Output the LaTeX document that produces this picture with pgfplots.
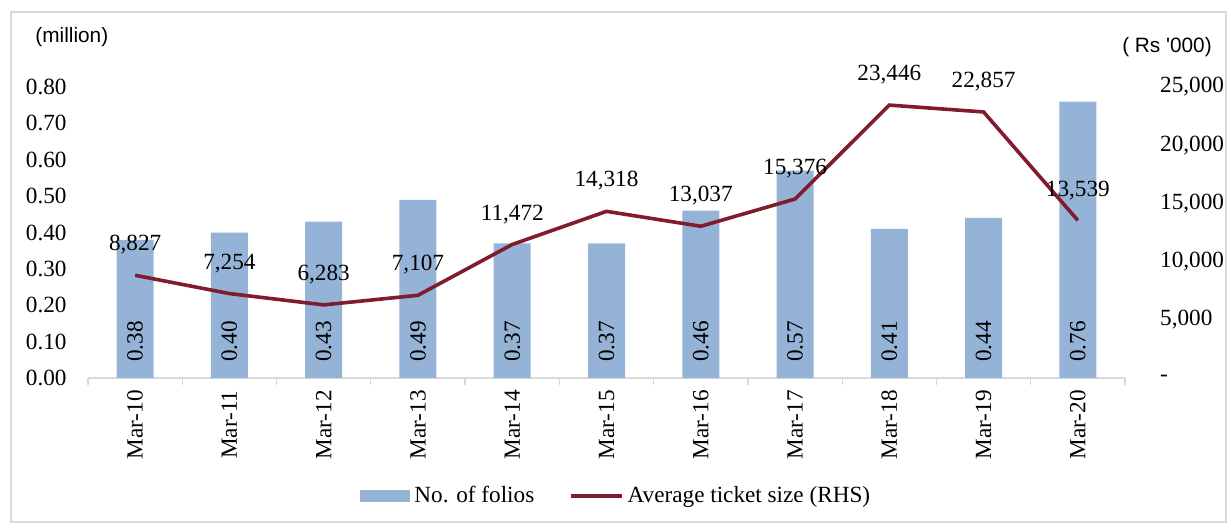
\documentclass[border=0pt]{standalone}
\usepackage{fontspec}
\setmainfont{Liberation Serif}
\newfontfamily\sansf{Liberation Sans}
\usepackage{pgfplots}
\pgfplotsset{compat=1.18}
\definecolor{barblue}{RGB}{149,179,215}
\definecolor{linered}{RGB}{128,28,45}
\definecolor{axgray}{RGB}{217,217,217}
\newcommand\fs{\fontsize{11.6}{13}\selectfont}
\begin{document}
\begin{tikzpicture}
\useasboundingbox (0,0) rectangle (613.5pt,-263pt);
\draw[axgray, line width=0.6pt] (5.5pt,-6pt) rectangle (613pt,-261pt);
\pgfplotsset{common/.style={
  scale only axis, width=518.5pt, height=145.5pt,
  at={(44pt,-189pt)}, anchor=south west,
  xmin=-0.5, xmax=10.5, ymin=0,
  major tick length=0pt,
  scaled y ticks=false,
  ticklabel style={font=\fs, inner sep=0pt},
}}
\begin{axis}[common, ymax=0.8,
  axis x line*=bottom, axis y line*=left,
  x axis line style={draw=axgray, line width=0.6pt},
  y axis line style={draw=none},
  xtick={0,1,2,3,4,5,6,7,8,9,10},
  xticklabels={Mar-10,Mar-11,Mar-12,Mar-13,Mar-14,Mar-15,Mar-16,Mar-17,Mar-18,Mar-19,Mar-20},
  xticklabel style={rotate=90, anchor=east},
  xticklabel shift=6pt,
  minor xtick={-0.5,0.5,1.5,2.5,3.5,4.5,5.5,6.5,7.5,8.5,9.5,10.5},
  minor tick length=3.5pt, tick align=outside,
  every minor tick/.style={draw=axgray, line width=0.6pt},
  ytick={0,0.1,0.2,0.3,0.4,0.5,0.6,0.7,0.8},
  yticklabels={0.00,0.10,0.20,0.30,0.40,0.50,0.60,0.70,0.80},
  yticklabel shift=10.5pt,
]
\addplot[ybar, bar width=18.5pt, fill=barblue, draw=none] coordinates {
(0,0.38) (1,0.40) (2,0.43) (3,0.49) (4,0.37) (5,0.37) (6,0.46) (7,0.57) (8,0.41) (9,0.44) (10,0.76)};
\addplot[draw=none, mark=none, nodes near coords, point meta=explicit symbolic,
  nodes near coords style={rotate=90, anchor=west, inner sep=0pt, font=\fs}] coordinates {
(0,0.044)[0.38] (1,0.044)[0.40] (2,0.044)[0.43] (3,0.044)[0.49] (4,0.044)[0.37] (5,0.044)[0.37]
(6,0.044)[0.46] (7,0.044)[0.57] (8,0.044)[0.41] (9,0.044)[0.44] (10,0.044)[0.76]};
\end{axis}
\begin{axis}[common, ymax=25000, clip=false,
  axis x line=none, axis y line*=right,
  y axis line style={draw=none},
  ytick={0,5000,10000,15000,20000,25000},
  yticklabels={{-},{5,000},{10,000},{15,000},{20,000},{25,000}},
  yticklabel shift=17.4pt,
  legend style={at={(axis description cs:0.5105,-0.4055)}, anchor=center, draw=none, fill=none,
    font=\fs, /tikz/every even column/.append style={column sep=15pt},
    nodes={inner sep=2.2pt}},
  legend columns=2,
]
\addlegendimage{legend image code/.code={\fill[barblue] (0pt,-2.7pt) rectangle (24.5pt,2.7pt);}}
\addlegendentry{No. of folios}
\addplot[linered, line width=1.8pt, mark=none, nodes near coords, point meta=explicit symbolic,
  nodes near coords style={font=\fs, anchor=south, inner sep=0pt, yshift=9.5pt, text=black},
  legend image code/.code={\draw[linered, line width=1.8pt] (0pt,0pt) -- (25.5pt,0pt);}] coordinates {
(0,8827)[{8,827}] (1,7254)[{7,254}] (2,6283)[{6,283}] (3,7107)[{7,107}] (4,11472)[{11,472}]
(5,14318)[{14,318}] (6,13037)[{13,037}] (7,15376)[{15,376}] (8,23446)[{23,446}] (9,22857)[{22,857}] (10,13539)[{13,539}]};
\addlegendentry{Average ticket size (RHS)}
\end{axis}
\node[anchor=west, inner sep=0pt, font=\sansf\fontsize{10.4}{12}\selectfont] at (17.5pt,-18.5pt) {(million)};
\node[anchor=center, inner sep=0pt, font=\sansf\fontsize{10.4}{12}\selectfont] at (583.5pt,-23.5pt) {( Rs \textquotesingle 000)};
\end{tikzpicture}
\end{document}
